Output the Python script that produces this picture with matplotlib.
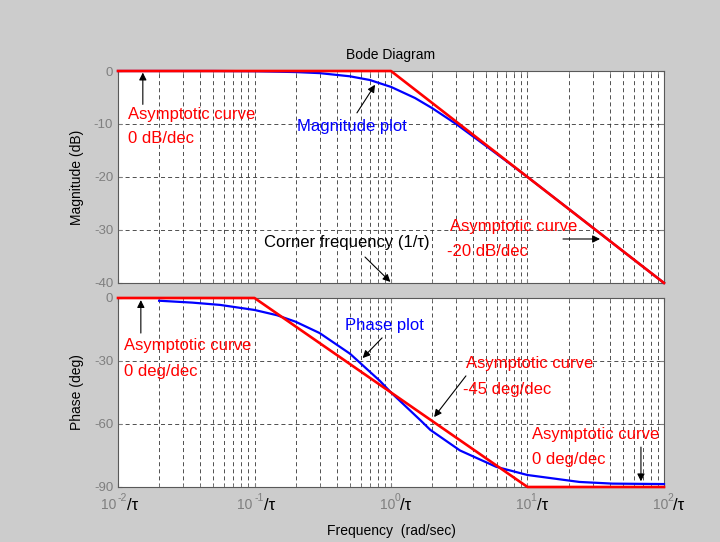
import numpy as np
import matplotlib
matplotlib.use("Agg")
import matplotlib.pyplot as plt

plt.rcParams['font.family'] = ['Liberation Sans', 'DejaVu Sans']
plt.rcParams['axes.unicode_minus'] = False
plt.rcParams['lines.scale_dashes'] = False

# frequencies are in units of 1/tau
mag_freq = [0.01, 0.02, 0.05, 0.1, 0.2, 0.3, 0.5, 0.7, 1.0, 1.5, 2, 3, 5, 7, 10, 20, 50, 100]
mag_db = [0, 0, 0, -0.04, -0.2, -0.4, -1.0, -1.7, -3.0, -5.1, -7.0, -10.0, -14.2, -17.0, -20.0, -26.0, -34.0, -40.0]

ph_freq = [0.02, 0.035, 0.056, 0.1, 0.146, 0.2, 0.3, 0.5, 0.83, 1.0, 1.66, 1.94, 3.2, 5.9, 10, 24, 42, 100]
ph_deg = [-1.3, -2.2, -3.3, -5.7, -8.2, -11.3, -16.7, -26.5, -39.5, -45, -58.5, -62.8, -72.6, -80.4, -84.3, -87.6, -88.4, -88.6]

asym_mag_freq = [0.01, 1, 100]
asym_mag_db = [0, 0, -40]
asym_ph_freq = [0.01, 0.1, 10, 100]
asym_ph_deg = [0, 0, -90, -90]

x_ticks = [0.01, 0.1, 1, 10, 100]
x_exps = ['-2', '-1', '0', '1', '2']
mag_ticks = [0, -10, -20, -30, -40]
ph_ticks = [0, -30, -60, -90]

grey_bg = '#cccccc'
tick_grey = '#7f7f7f'

fig = plt.figure(figsize=(7.2, 5.42), dpi=100, facecolor=grey_bg)
ax1 = fig.add_axes([0.1639, 0.4779, 0.7583, 0.3911])
ax2 = fig.add_axes([0.1639, 0.1015, 0.7583, 0.3487])


def style_axes(ax, yticks, ylim):
    ax.set_xscale('log')
    ax.set_xlim(0.01, 100)
    ax.set_ylim(*ylim)
    ax.set_yticks(yticks)
    ax.set_xticks(x_ticks)
    ax.set_xticklabels([])
    ax.grid(True, which='major', color='0.2', linewidth=0.6, linestyle=(0, (2.9, 2.2)))
    ax.grid(True, which='minor', axis='x', color='0.2', linewidth=0.6, linestyle=(0, (2.9, 2.2)))
    ax.tick_params(which='both', direction='in', top=True, right=True, colors=tick_grey,
                   labelsize=9.5, labelcolor=tick_grey, length=3)
    ax.tick_params(which='minor', length=2)
    for sp in ax.spines.values():
        sp.set_color('0.35')
        sp.set_linewidth(0.8)
    ax.set_axisbelow(True)


style_axes(ax1, mag_ticks, (-40, 0))
style_axes(ax2, ph_ticks, (-90, 0))

# magnitude
ax1.plot(mag_freq, mag_db, color='#0000ff', lw=1.6, clip_on=False, zorder=3)
ax1.plot(asym_mag_freq, asym_mag_db, color='#ff0000', lw=1.9, clip_on=False, zorder=4)

# phase
ax2.plot(ph_freq, ph_deg, color='#0000ff', lw=1.6, clip_on=False, zorder=3)
ax2.plot(asym_ph_freq, asym_ph_deg, color='#ff0000', lw=1.9, clip_on=False, zorder=4)

ax1.set_title('Bode Diagram', fontsize=10, color='k', pad=9)
ax1.set_ylabel('Magnitude (dB)', fontsize=10, labelpad=7)
ax2.set_ylabel('Phase (deg)', fontsize=10, labelpad=7)
ax2.set_xlabel('Frequency  (rad/sec)', fontsize=10, labelpad=23)

# x tick labels: grey "10" with superscript exponent, then black "/tau"
for t, e in zip(x_ticks, x_exps):
    loc = dict(xy=(t, 0), xycoords=('data', 'axes fraction'), textcoords='offset points')
    ax2.annotate(e, xytext=(6.5, -8), ha='right', va='center', fontsize=7.5,
                 color=tick_grey, **loc)
    ax2.annotate('10', xytext=(6.5 - 0.55 * 7.5 * len(e) + 0.5, -13), ha='right', va='center',
                 fontsize=10, color=tick_grey, **loc)
    ax2.annotate('/τ', xytext=(6.5, -13.5), ha='left', va='center',
                 fontsize=12, color='k', **loc)

arrow = dict(arrowstyle='-|>', color='k', lw=0.8, mutation_scale=11, shrinkA=0, shrinkB=0)
red_kw = dict(color='#ff0000', fontsize=12, va='center', ha='left')

# magnitude annotations
ax1.annotate('', xy=(0.0152, -0.3), xytext=(0.0152, -6.3), arrowprops=arrow)
ax1.text(0.0118, -8.3, 'Asymptotic curve', **red_kw)
ax1.text(0.0118, -12.8, '0 dB/dec', **red_kw)

ax1.text(0.205, -10.4, 'Magnitude plot', color='#0000ff', fontsize=12, va='center', ha='left')
ax1.annotate('', xy=(0.764, -2.6), xytext=(0.563, -7.9), arrowprops=arrow)

ax1.text(0.117, -32.3, 'Corner frequency (1/τ)', color='k', fontsize=12, va='center', ha='left')
ax1.annotate('', xy=(0.99, -39.8), xytext=(0.645, -35.1), arrowprops=arrow, annotation_clip=False)

ax1.text(2.7, -29.4, 'Asymptotic curve', **red_kw)
ax1.text(2.57, -34.0, '-20 dB/dec', **red_kw)
ax1.annotate('', xy=(34, -31.7), xytext=(18.2, -31.7), arrowprops=arrow)

# phase annotations
ax2.annotate('', xy=(0.0147, -1.0), xytext=(0.0147, -16.7), arrowprops=arrow)
ax2.text(0.0111, -22.4, 'Asymptotic curve', **red_kw)
ax2.text(0.0111, -35.2, '0 deg/dec', **red_kw)

ax2.text(0.46, -13.3, 'Phase plot', color='#0000ff', fontsize=12, va='center', ha='left')
ax2.annotate('', xy=(0.62, -28.6), xytext=(0.86, -19.0), arrowprops=arrow)

ax2.text(3.54, -31.0, 'Asymptotic curve', **red_kw)
ax2.text(3.37, -43.8, '-45 deg/dec', **red_kw)
ax2.annotate('', xy=(2.07, -56.7), xytext=(3.54, -37.1), arrowprops=arrow)

ax2.text(10.8, -65.2, 'Asymptotic curve', **red_kw)
ax2.text(10.8, -77.1, '0 deg/dec', **red_kw)
ax2.annotate('', xy=(67.8, -87.3), xytext=(67.8, -71.0), arrowprops=arrow)

fig.savefig('out.png', dpi=100, facecolor=grey_bg)
